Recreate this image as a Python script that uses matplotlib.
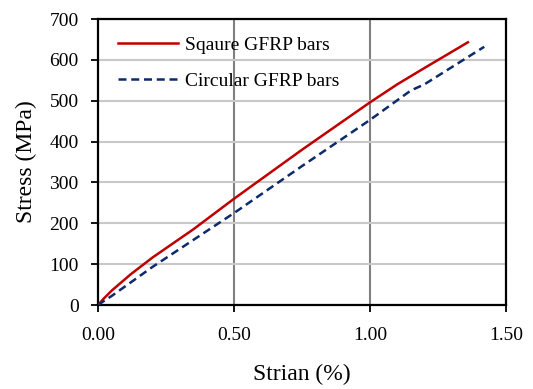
import matplotlib
matplotlib.use("Agg")
import matplotlib.pyplot as plt

square_strain = [0.0, 0.02, 0.05, 0.12, 0.20, 0.35, 0.50, 0.75, 1.00, 1.10, 1.20, 1.36]
square_stress = [0, 15, 35, 75, 116, 185, 260, 380, 496, 540, 580, 643]
circ_strain = [0.0, 0.02, 0.05, 0.20, 0.50, 0.75, 1.00, 1.15, 1.20, 1.42]
circ_stress = [0, 9, 22, 93, 225, 340, 453, 525, 540, 632]

x_ticks = [0.0, 0.5, 1.0, 1.5]
x_ticklabels = ["0.00", "0.50", "1.00", "1.50"]
y_ticks = [0, 100, 200, 300, 400, 500, 600, 700]

plt.rcParams['font.family'] = ['Liberation Serif', 'DejaVu Serif']

fig = plt.figure(figsize=(5.33, 3.89), dpi=100)
ax = fig.add_axes([98/533, 1 - 305/389, 408/533, 286/389])

ax.plot(square_strain, square_stress, color='#c00000', lw=1.8, label='Sqaure GFRP bars', zorder=3)
ax.plot(circ_strain, circ_stress, color='#0d2a6b', lw=1.8, ls=(0, (3.2, 1.9)), label='Circular GFRP bars', zorder=3)

ax.set_xlim(0, 1.5)
ax.set_ylim(0, 700)
ax.set_xticks(x_ticks)
ax.set_xticklabels(x_ticklabels)
ax.set_yticks(y_ticks)

ax.grid(axis='y', color='#c8c8c8', lw=1.5, zorder=0)
for xv in x_ticks[1:3]:
    ax.axvline(xv, color='#808080', lw=1.5, zorder=1)

for s in ax.spines.values():
    s.set_linewidth(1.6)
    s.set_color('black')

ax.tick_params(axis='both', direction='out', length=5, width=1.3, labelsize=14)
ax.tick_params(axis='x', pad=11)
ax.tick_params(axis='y', pad=9)

ax.set_xlabel('Strian (%)', fontsize=17, labelpad=14)
ax.set_ylabel('Stress (MPa)', fontsize=17, labelpad=9)

leg = ax.legend(loc='upper left', frameon=False, fontsize=14, handlelength=3.1,
                handletextpad=0.35, labelspacing=0.95, bbox_to_anchor=(0.02, 0.98),
                borderaxespad=0.2)

fig.savefig('out.png', dpi=100)
